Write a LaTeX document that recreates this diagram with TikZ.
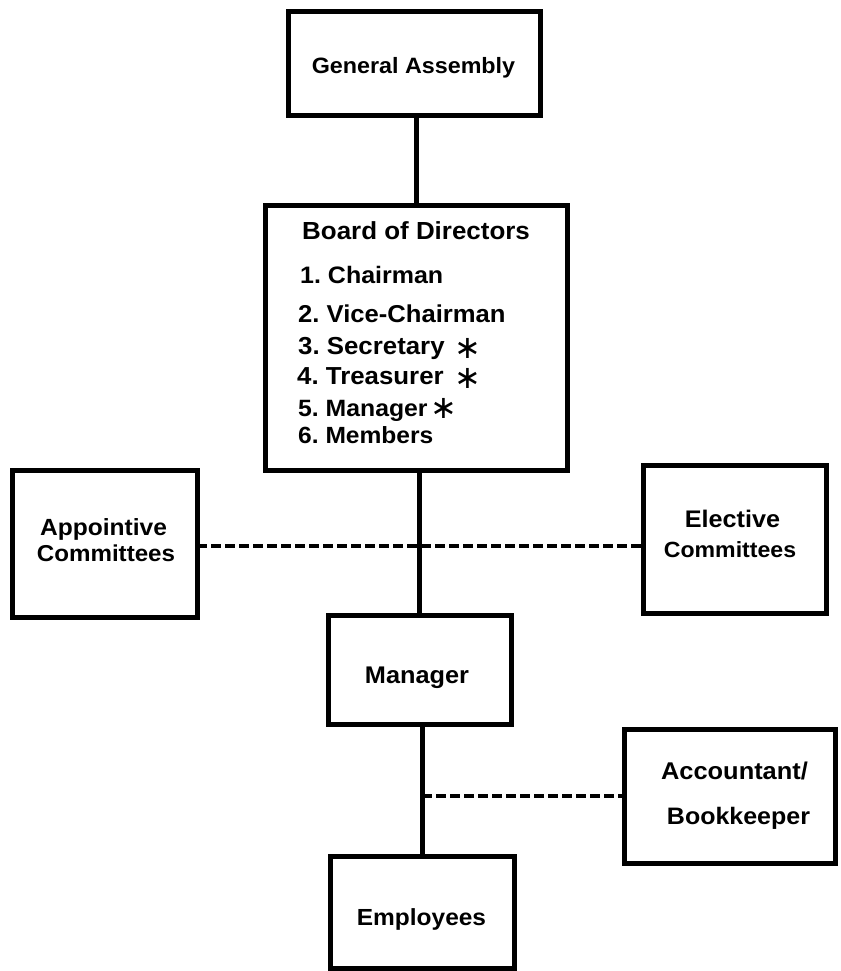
\documentclass[tikz,border=0pt]{standalone}
\usepackage{fontspec}
\newfontfamily\lett{Liberation Sans}[FakeStretch=1.05]
\newfontfamily\symf{DejaVu Sans}
\newcommand{\fsz}[1]{\fontsize{#1}{#1}\selectfont}
\frenchspacing
\tikzset{
  box/.style={draw, line width=5pt, inner sep=0pt, outer sep=0pt},
  link/.style={line width=5pt},
  dashlink/.style={line width=3.5pt, dash pattern=on 10pt off 4pt},
  txt/.style={anchor=base, inner sep=0pt, font=\lett\bfseries},
  txtl/.style={anchor=base west, inner sep=0pt, font=\lett\bfseries},
  astk/.style={anchor=center, inner sep=0pt, font=\symf\fsz{32}}
}
\begin{document}
\begin{tikzpicture}[x=1pt,y=-1pt]
\useasboundingbox (0,0) rectangle (840,971);
% boxes
\node[box, minimum width=252, minimum height=104] (ga) at (414,64) {};
\node[box, minimum width=301.5, minimum height=265] (bod) at (416.25,337.5) {};
\node[box, minimum width=185, minimum height=146.5] (appt) at (104.5,543.75) {};
\node[box, minimum width=183, minimum height=148] (elect) at (735,539.4) {};
\node[box, minimum width=183.5, minimum height=109] (mgr) at (419.75,669.5) {};
\node[box, minimum width=210.5, minimum height=134.7] (acct) at (729.75,796.6) {};
\node[box, minimum width=184, minimum height=112.5] (emp) at (422,912.3) {};
% connector guides
\coordinate (c1) at (416,0);
\coordinate (c2) at (419.5,0);
\coordinate (c3) at (422,0);
\coordinate (d1) at (0,546);
\coordinate (d2) at (0,796);
\draw[link] (ga.south -| c1) -- (bod.north -| c1);
\draw[link] (bod.south -| c2) -- (mgr.north -| c2);
\draw[link] (mgr.south -| c3) -- (emp.north -| c3);
\draw[dashlink] (appt.east |- d1) -- (elect.west |- d1);
\draw[dashlink] (c3 |- d2) -- (acct.west |- d2);
% texts
\node[txt] (gat) at (413.5,74) {\fsz{22.2}General Assembly};
\node[txtl] (bodh) at (302,239) {\fsz{24.7}Board of Directors};
\node[txtl] (l1) at (300,283) {\fsz{23.8}1. Chairman};
\node[txtl] (l2) at (298,322) {\fsz{24.4}2. Vice-Chairman};
\node[txtl] (l3) at (298,354) {\fsz{24.6}3. Secretary};
\node[txtl] (l4) at (297,384) {\fsz{24.6}4. Treasurer};
\node[txtl] (l5) at (298,416) {\fsz{23.6}5. Manager};
\node[txtl] (l6) at (298,443) {\fsz{23.4}6. Members};
\node[astk] (a3) at (468,348) {∗};
\node[astk] (a4) at (468,378) {∗};
\node[astk] (a5) at (444,408) {∗};
\node[txt] (apt1) at (103.5,535) {\fsz{23.4}Appointive};
\node[txt] (apt2) at (106,561) {\fsz{23}Committees};
\node[txt] (el1) at (732.5,527) {\fsz{24}Elective};
\node[txt] (el2) at (730,557) {\fsz{22}Committees};
\node[txt] (mgrt) at (417,683) {\fsz{24.1}Manager};
\node[txt] (ac1) at (734.5,779) {\fsz{24.2}Accountant/};
\node[txt] (ac2) at (738.5,824) {\fsz{23.8}Bookkeeper};
\node[txt] (empt) at (421.5,925) {\fsz{23.3}Employees};
\end{tikzpicture}
\end{document}
